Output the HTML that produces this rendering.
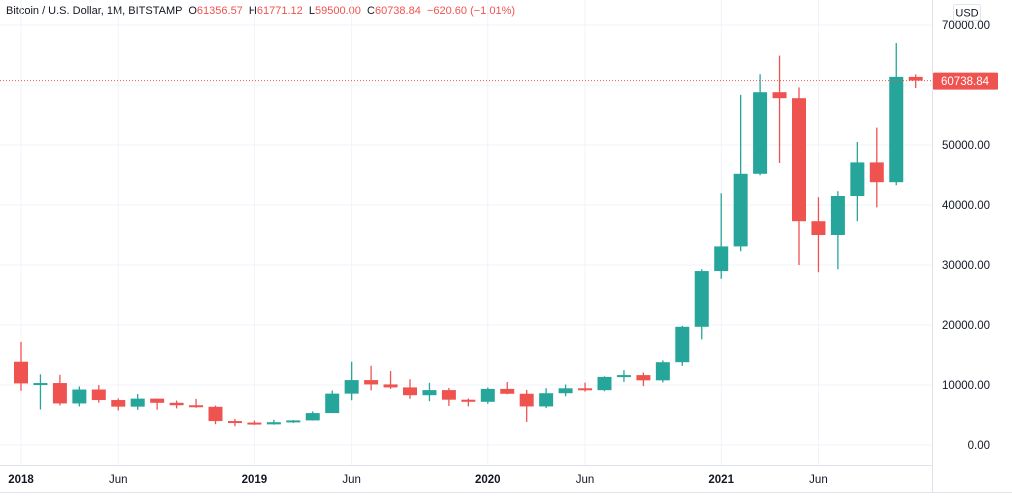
<!DOCTYPE html>
<html><head><meta charset="utf-8">
<style>
html,body{margin:0;padding:0;background:#fff;width:1012px;height:498px;overflow:hidden;font-family:"Liberation Sans",sans-serif;}
#hdr{position:absolute;left:6px;top:5px;font-size:11px;color:#131722;white-space:nowrap;}
#hdr .v{color:#ef5350;}
</style></head><body>
<div id="hdr">Bitcoin / U.S. Dollar, 1M, BITSTAMP &nbsp;O<span class="v">61356.57</span> &nbsp;H<span class="v">61771.12</span> &nbsp;L<span class="v">59500.00</span> &nbsp;C<span class="v">60738.84</span> &nbsp;<span class="v">−620.60 (−1.01%)</span></div>
<svg id="chart" width="1012" height="498" style="position:absolute;left:0;top:0"></svg>
<script>
const opens=[13880,10265,10326,6926,9246,7495,6390,7730,7030,6626,6365,3990,3740,3440,3800,4100,5320,8560,10820,10100,9600,8300,9150,7550,7200,9350,8540,6425,8630,9450,9140,11350,11650,10780,13800,19700,28990,33100,45200,58800,57800,37300,35000,41500,47100,43800,61356.57];
const highs=[17176,11780,11700,9760,9990,7780,8500,7750,7410,7680,6570,4360,4070,4200,4140,5600,9070,13880,13200,12330,10950,10370,9500,7750,9580,10500,9190,9460,10080,10400,11450,12470,12070,14100,19860,29300,41950,58350,61800,64900,59600,41300,42300,50500,52900,67000,61771.12];
const lows=[9035,5920,6600,6430,7050,5750,5860,5880,6100,6200,3470,3120,3350,3390,3670,4070,5320,7460,9100,9350,7710,7300,6520,6430,6860,8450,3850,6150,8120,8900,8970,10520,9820,10420,13200,17600,27700,32300,44950,47000,30000,28800,29300,37300,39600,43300,59500];
const closes=[10265,10326,6926,9246,7495,6390,7730,7030,6626,6365,3990,3740,3440,3800,4100,5320,8560,10820,10100,9600,8300,9150,7550,7200,9350,8540,6425,8630,9450,9140,11350,11650,10780,13800,19700,28990,33100,45200,58800,57800,37300,35000,41500,47100,43800,61356.57,60738.84];
const yTicks=[0,10000,20000,30000,40000,50000,60000,70000];
const xLabels=[["2018",0,true],["Jun",5,false],["2019",12,true],["Jun",17,false],["2020",24,true],["Jun",29,false],["2021",36,true],["Jun",41,false]];
const lastPrice=60738.84;

const svg=document.getElementById('chart');
const NS='http://www.w3.org/2000/svg';
const X=i=>21+i*19.45;
const Y=v=>445-v*0.006;
function mk(t,a,p){const e=document.createElementNS(NS,t);for(const k in a)e.setAttribute(k,a[k]);(p||svg).appendChild(e);return e;}
// grid
yTicks.forEach(v=>{
  const g=mk('line',{x1:0,x2:932,y1:Y(v),y2:Y(v),stroke:'#f0f3fa','stroke-width':1});
  
  
  const t=mk('text',{x:990,y:Y(v)+4,'text-anchor':'end','font-size':11.5,fill:'#131722'});
  t.textContent=v.toFixed(2);
  
  
});
xLabels.forEach(l=>{
  const g=mk('line',{x1:X(l[1]),x2:X(l[1]),y1:0,y2:465,stroke:'#f0f3fa','stroke-width':1});
  
  
  const t=mk('text',{x:X(l[1]),y:483,'text-anchor':'middle','font-size':11.5,fill:'#131722','font-weight':l[2]?'bold':'normal'});
  t.textContent=l[0];
  
  
});
// axes borders
const a1=mk('line',{x1:0,x2:932,y1:465.5,y2:465.5,stroke:'#e0e3eb'});


const a2=mk('line',{x1:932.5,x2:932.5,y1:0,y2:492,stroke:'#e0e3eb'});


const a3=mk('line',{x1:0,x2:1012,y1:492.5,y2:492.5,stroke:'#e0e3eb'});


// candles
opens.forEach((o,i)=>{
  const c=closes[i],up=c>=o,col=up?'#26a69a':'#ef5350',x=X(i);
  const w=mk('line',{x1:x,x2:x,y1:Y(highs[i]),y2:Y(lows[i]),stroke:col,'stroke-width':1.3});
  
  
  const top=Y(Math.max(o,c)),h=Math.max(2,Math.abs(Y(o)-Y(c)));
  const r=mk('rect',{x:x-7,y:top,width:14,height:h,fill:col});
  
  
});
// last price line
const ly=Y(lastPrice);
const pl=mk('line',{x1:0,x2:932,y1:ly,y2:ly,stroke:'#ef5350','stroke-dasharray':'1 2','stroke-width':1});


const pb=mk('rect',{x:933,y:ly-8,width:65,height:17,fill:'#ef5350',rx:1});


const pt=mk('text',{x:965,y:ly+4.5,'text-anchor':'middle','font-size':11.5,fill:'#fff'});
pt.textContent=lastPrice.toFixed(2);


// USD
const ub=mk('rect',{x:953.5,y:4.5,width:27,height:16,fill:'#fff',stroke:'#e0e3eb',rx:2});


const ut=mk('text',{x:967,y:16.5,'text-anchor':'middle','font-size':11,fill:'#131722'});
ut.textContent='USD';


</script>
</body></html>
